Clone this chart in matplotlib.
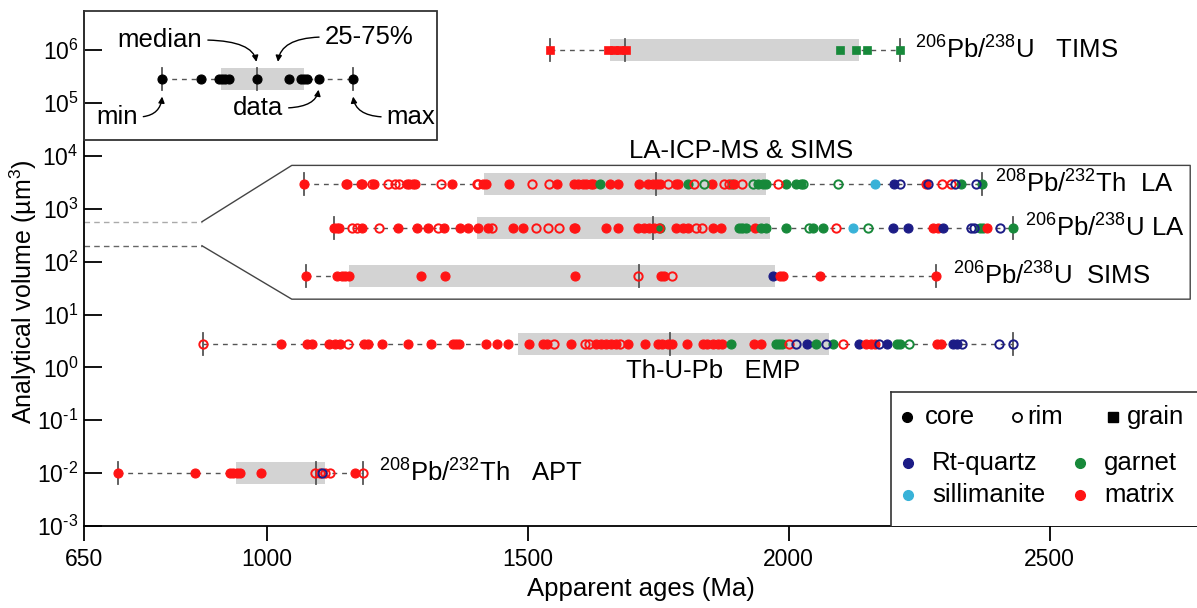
import matplotlib
matplotlib.use("Agg")
import matplotlib.pyplot as plt
from matplotlib.ticker import NullLocator

plt.rcParams['font.family'] = ['Liberation Sans', 'DejaVu Sans']
plt.rcParams['mathtext.fontset'] = 'custom'
plt.rcParams['mathtext.rm'] = 'Liberation Sans'
plt.rcParams['mathtext.it'] = 'Liberation Sans:italic'
plt.rcParams['mathtext.bf'] = 'Liberation Sans:bold'

## colores por mineral huesped
cols = {'q': '#1c1c86', 'g': '#17893a', 's': '#38b2d8', 'm': '#ff1414', 'k': 'black'}

## codigo de cada punto: huesped + tipo
## huesped: q Rt-quartz, g garnet, s sillimanite, m matrix ; tipo: c core, r rim, g grain

## ejemplo (recuadro)
ex_age = [800, 875, 908, 915, 921, 927, 981, 1042, 1065, 1071, 1077, 1100, 1165]
ex_code = ['kc'] * 13

tims_age = [1543, 1654, 1665, 1677, 1688, 2099, 2128, 2149, 2214]
tims_code = ['mg'] * 5 + ['gg'] * 4

lath_age = [1071, 1151, 1154, 1180, 1183, 1201, 1206, 1233, 1245, 1254, 1268, 1273, 1281, 1285,
            1333, 1354, 1402, 1405, 1415, 1421, 1465, 1509, 1541, 1556, 1589, 1597, 1606, 1612,
            1621, 1625, 1639, 1658, 1673, 1713, 1730, 1740, 1748, 1753, 1769, 1784, 1788, 1807,
            1818, 1837, 1853, 1876, 1885, 1891, 1895, 1910, 1931, 1941, 1950, 1956, 1979, 1994,
            2013, 2023, 2027, 2094, 2166, 2201, 2214, 2262, 2266, 2294, 2310, 2319, 2329, 2359, 2371]
lath_code = ['mc', 'mc', 'mc', 'mc', 'mc', 'mr', 'mc', 'mr', 'mr', 'mr', 'mc', 'mc', 'mc', 'mc',
             'mr', 'mc', 'mr', 'mr', 'mc', 'mc', 'mc', 'mr', 'mr', 'mc', 'mc', 'mc', 'mc', 'mc',
             'mc', 'mc', 'gc', 'mc', 'mc', 'mc', 'mc', 'mc', 'mc', 'mc', 'mr', 'mc', 'mc', 'gc',
             'mr', 'gr', 'mc', 'mr', 'mr', 'gc', 'mc', 'mr', 'gr', 'gc', 'gc', 'gc', 'mr', 'gc',
             'gc', 'gc', 'gr', 'gr', 'sc', 'qc', 'qr', 'mc', 'qr', 'mr', 'mr', 'qr', 'gc', 'qr', 'gc']

lau_age = [1128, 1134, 1138, 1163, 1172, 1182, 1216, 1252, 1287, 1308, 1328, 1340, 1371, 1386,
           1405, 1424, 1432, 1472, 1491, 1516, 1539, 1560, 1589, 1591, 1650, 1673, 1711, 1723,
           1732, 1742, 1751, 1753, 1784, 1797, 1807, 1822, 1834, 1855, 1870, 1904, 1910, 1918,
           1935, 1946, 1956, 1994, 2038, 2046, 2065, 2090, 2124, 2151, 2199, 2228, 2277, 2285,
           2296, 2350, 2354, 2367, 2373, 2380, 2405, 2430]
lau_code = ['mc', 'mc', 'mc', 'mr', 'mr', 'mc', 'mr', 'mc', 'mc', 'mc', 'mr', 'mc', 'mc', 'mc',
            'mc', 'mc', 'mr', 'mc', 'mc', 'mr', 'mr', 'mr', 'mc', 'mc', 'mc', 'mc', 'mc', 'mc',
            'mc', 'mc', 'mr', 'gc', 'mc', 'mc', 'mc', 'mr', 'mr', 'mc', 'mc', 'gc', 'gr', 'gc',
            'mc', 'gc', 'gc', 'gc', 'gr', 'gc', 'gc', 'mr', 'sc', 'gr', 'qc', 'qc', 'mc', 'mc',
            'qc', 'qr', 'qr', 'gc', 'gc', 'mc', 'qr', 'gc']

sims_age = [1076, 1135, 1144, 1150, 1157, 1296, 1342, 1590, 1711, 1755, 1761, 1777, 1969, 1983,
            1989, 2059, 2283]
sims_code = ['mc'] * 8 + ['mr', 'mc', 'mc', 'mr', 'qc', 'mc', 'mc', 'mc', 'mc']

emp_age = [877, 1027, 1078, 1087, 1120, 1130, 1140, 1156, 1187, 1194, 1220, 1271, 1315, 1357,
           1363, 1369, 1421, 1442, 1462, 1503, 1529, 1537, 1551, 1582, 1610, 1618, 1631, 1641,
           1650, 1660, 1669, 1676, 1692, 1725, 1749, 1758, 1768, 1776, 1805, 1835, 1844, 1854,
           1864, 1873, 1889, 1933, 1946, 1975, 1981, 1988, 2000, 2013, 2034, 2052, 2071, 2084,
           2103, 2134, 2147, 2157, 2166, 2172, 2189, 2208, 2214, 2230, 2284, 2291, 2315, 2323,
           2332, 2402, 2429]
emp_code = ['mr', 'mc', 'mc', 'mc', 'mc', 'mc', 'mc', 'mr', 'mc', 'mc', 'mc', 'mc', 'mc', 'mc',
            'mc', 'mc', 'mc', 'mc', 'mc', 'mc', 'mc', 'mc', 'mr', 'mc', 'mr', 'mr', 'mc', 'mc',
            'mc', 'mc', 'mc', 'mr', 'mc', 'mc', 'mc', 'mc', 'mc', 'mc', 'mc', 'mc', 'mc', 'mc',
            'mc', 'mc', 'gc', 'mc', 'mc', 'gc', 'gc', 'gc', 'mr', 'qr', 'qc', 'gc', 'qr', 'gc',
            'mr', 'qc', 'mc', 'mc', 'mc', 'qr', 'qc', 'gc', 'gc', 'gr', 'mc', 'mc', 'qc', 'qc',
            'qr', 'qr', 'qr']

apt_age = [715, 863, 930, 936, 943, 949, 990, 1092, 1102, 1111, 1121, 1106, 1169, 1185]
apt_code = ['mc'] * 7 + ['mr', 'mr', 'mr', 'mr', 'qr', 'mc', 'mr']

## volumen analitico de cada fila (um3), cuartiles y mediana
rows = ['ex', 'TIMS', 'LA Th', 'LA U', 'SIMS', 'EMP', 'APT']
row_vol = [10**5.45, 1e6, 10**3.47, 10**2.63, 10**1.73, 10**0.445, 1e-2]
row_q25 = [913, 1658, 1417, 1403, 1157, 1482, 941]
row_med = [981, 1686, 1746, 1740, 1713, 1772, 1094]
row_q75 = [1071, 2134, 1956, 1965, 1974, 2077, 1111]
row_age = [ex_age, tims_age, lath_age, lau_age, sims_age, emp_age, apt_age]
row_code = [ex_code, tims_code, lath_code, lau_code, sims_code, emp_code, apt_code]

W, H = 1197, 608
fig = plt.figure(figsize=(W / 100, H / 100), dpi=100)
ax = fig.add_axes([84 / W, 1 - 526 / H, (W - 84) / W, (526 - 11) / H])
ax.set_yscale('log')
ax.set_xlim(650, 2782)
ax.set_ylim(1e-3, 10**6.74)

hh = 0.21  # media altura de la caja en decadas
for vol, q1, me, q3, ages, codes in zip(row_vol, row_q25, row_med, row_q75, row_age, row_code):
    lo, hi = vol / 10**hh, vol * 10**hh
    ax.plot([min(ages), max(ages)], [vol, vol], ls=(0, (3.5, 3.5)), color='#555555', lw=1, zorder=1)
    ax.fill_between([q1, q3], lo, hi, color='#d3d3d3', lw=0, zorder=2)
    ax.plot([me, me], [lo, hi], color='#555555', lw=1.3, zorder=3)
    for a in (min(ages), max(ages)):
        ax.plot([a, a], [lo, hi], color='#555555', lw=1.3, zorder=3)
    for a, c in zip(ages, codes):
        col = cols[c[0]]
        if c[1] == 'c':
            ax.plot(a, vol, 'o', ms=6.5, mfc=col, mec=col, mew=0.8, zorder=4)
        elif c[1] == 'r':
            ax.plot(a, vol, 'o', ms=6, mfc='none', mec=col, mew=1.4, zorder=5)
        else:
            ax.plot(a, vol, 's', ms=6, mfc=col, mec=col, mew=0.5, zorder=4)

## etiquetas de cada fila
fs = 18.5
ax.text(2241, 1e6, r'$^{206}$Pb/$^{238}$U   TIMS', va='center', fontsize=fs)
ax.text(2396, 10**3.47, r'$^{208}$Pb/$^{232}$Th  LA', va='center', fontsize=fs)
ax.text(2453, 10**2.63, r'$^{206}$Pb/$^{238}$U LA', va='center', fontsize=fs)
ax.text(2315, 10**1.73, r'$^{206}$Pb/$^{238}$U  SIMS', va='center', fontsize=fs)
ax.text(1688, 10**-0.07, 'Th-U-Pb   EMP', va='center', fontsize=fs)
ax.text(1216, 1e-2, r'$^{208}$Pb/$^{232}$Th   APT', va='center', fontsize=fs)
ax.text(1908, 10**4.1, 'LA-ICP-MS & SIMS', ha='center', va='center', fontsize=fs)

## recuadro de zoom LA / SIMS
ax.plot([650, 876], [10**2.755] * 2, ls=(0, (4, 3)), color='#aaaaaa', lw=1)
ax.plot([650, 876], [10**2.3] * 2, ls=(0, (4, 3)), color='#666666', lw=1)
ax.plot([876, 1048, 2769, 2769, 1048, 876],
        [10**2.755, 10**3.82, 10**3.82, 10**1.29, 10**1.29, 10**2.3], color='#444444', lw=1)

## ejes: ticks y hacia dentro, x hacia fuera
ax.set_yticks([10.0**k for k in range(-3, 7)])
ax.set_yticklabels([r'$\mathdefault{10^{%s}}$' % (r'\text{-}%d' % -k if k < 0 else '%d' % k)
                    for k in range(-3, 7)])
ax.yaxis.set_minor_locator(NullLocator())
ax.set_xticks([650, 1000, 1500, 2000, 2500])
ax.tick_params(labelsize=16.5, width=1.3)
ax.tick_params(axis='y', direction='in', length=13, pad=4)
ax.tick_params(axis='x', direction='out', length=11, pad=5)
ax.spines['top'].set_visible(False)
ax.spines['right'].set_visible(False)
ax.spines['left'].set_linewidth(1.3)
ax.spines['bottom'].set_linewidth(1.3)
ax.set_xlabel('Apparent ages (Ma)', fontsize=fs, labelpad=4)
ax.set_ylabel('Analytical volume (µm$^3$)', fontsize=18)
ax.yaxis.set_label_coords(-0.040, 0.455)

## recuadro de ejemplo
fig.patches.append(plt.Rectangle((84 / W, 1 - 140 / H), (437 - 84) / W, 129 / H, transform=fig.transFigure,
                                 fill=False, ec='#333333', lw=1.3))
yex = row_vol[0]
ap = dict(arrowstyle='-|>', color='black', lw=1, mutation_scale=9,
          connectionstyle='angle3,angleA=0,angleB=90', shrinkA=2, shrinkB=3)
ax.annotate('median', xy=(981, yex * 10**0.25), xytext=(160, H - 40), textcoords='figure pixels',
            ha='center', va='center', fontsize=fs, arrowprops=dict(ap, relpos=(1, 0.5)))
ax.annotate('25-75%', xy=(1021, yex * 10**0.25), xytext=(369, H - 37), textcoords='figure pixels',
            ha='center', va='center', fontsize=fs, arrowprops=dict(ap, relpos=(0, 0.5)))
ax.annotate('min', xy=(800, yex / 10**0.25), xytext=(117, H - 117), textcoords='figure pixels',
            ha='center', va='center', fontsize=fs, arrowprops=dict(ap, relpos=(1, 0.5)))
ax.annotate('data', xy=(1100, yex / 10**0.12), xytext=(258, H - 108), textcoords='figure pixels',
            ha='center', va='center', fontsize=fs, arrowprops=dict(ap, relpos=(1, 0.5)))
ax.annotate('max', xy=(1165, yex / 10**0.25), xytext=(411, H - 117), textcoords='figure pixels',
            ha='center', va='center', fontsize=fs, arrowprops=dict(ap, relpos=(0, 0.5)))

## leyenda
lax = fig.add_axes([891 / W, 1 - 526 / H, (W - 891) / W, (526 - 392) / H])
lax.set_xlim(891, W)
lax.set_ylim(526, 392)
lax.set_xticks([])
lax.set_yticks([])
lax.spines['right'].set_visible(False)
lax.spines['bottom'].set_visible(False)
for s in ('left', 'top'):
    lax.spines[s].set_color('#333333')
    lax.spines[s].set_linewidth(1.2)
lax.plot(907, 417, 'o', ms=7, color='black')
lax.text(925, 417, 'core', va='center', fontsize=fs)
lax.plot(1017, 417, 'o', ms=6.5, mfc='none', mec='black', mew=1.3)
lax.text(1027, 417, 'rim', va='center', fontsize=fs)
lax.plot(1113, 417, 's', ms=7, color='black')
lax.text(1127, 417, 'grain', va='center', fontsize=fs)
leg = [('q', 'Rt-quartz', 908, 463), ('g', 'garnet', 1080, 463),
       ('s', 'sillimanite', 908, 495), ('m', 'matrix', 1080, 495)]
for c, name, x, y in leg:
    lax.plot(x, y, 'o', ms=7, color=cols[c])
    lax.text(x + 24, y, name, va='center', fontsize=fs)

fig.savefig('out.png', dpi=100)
